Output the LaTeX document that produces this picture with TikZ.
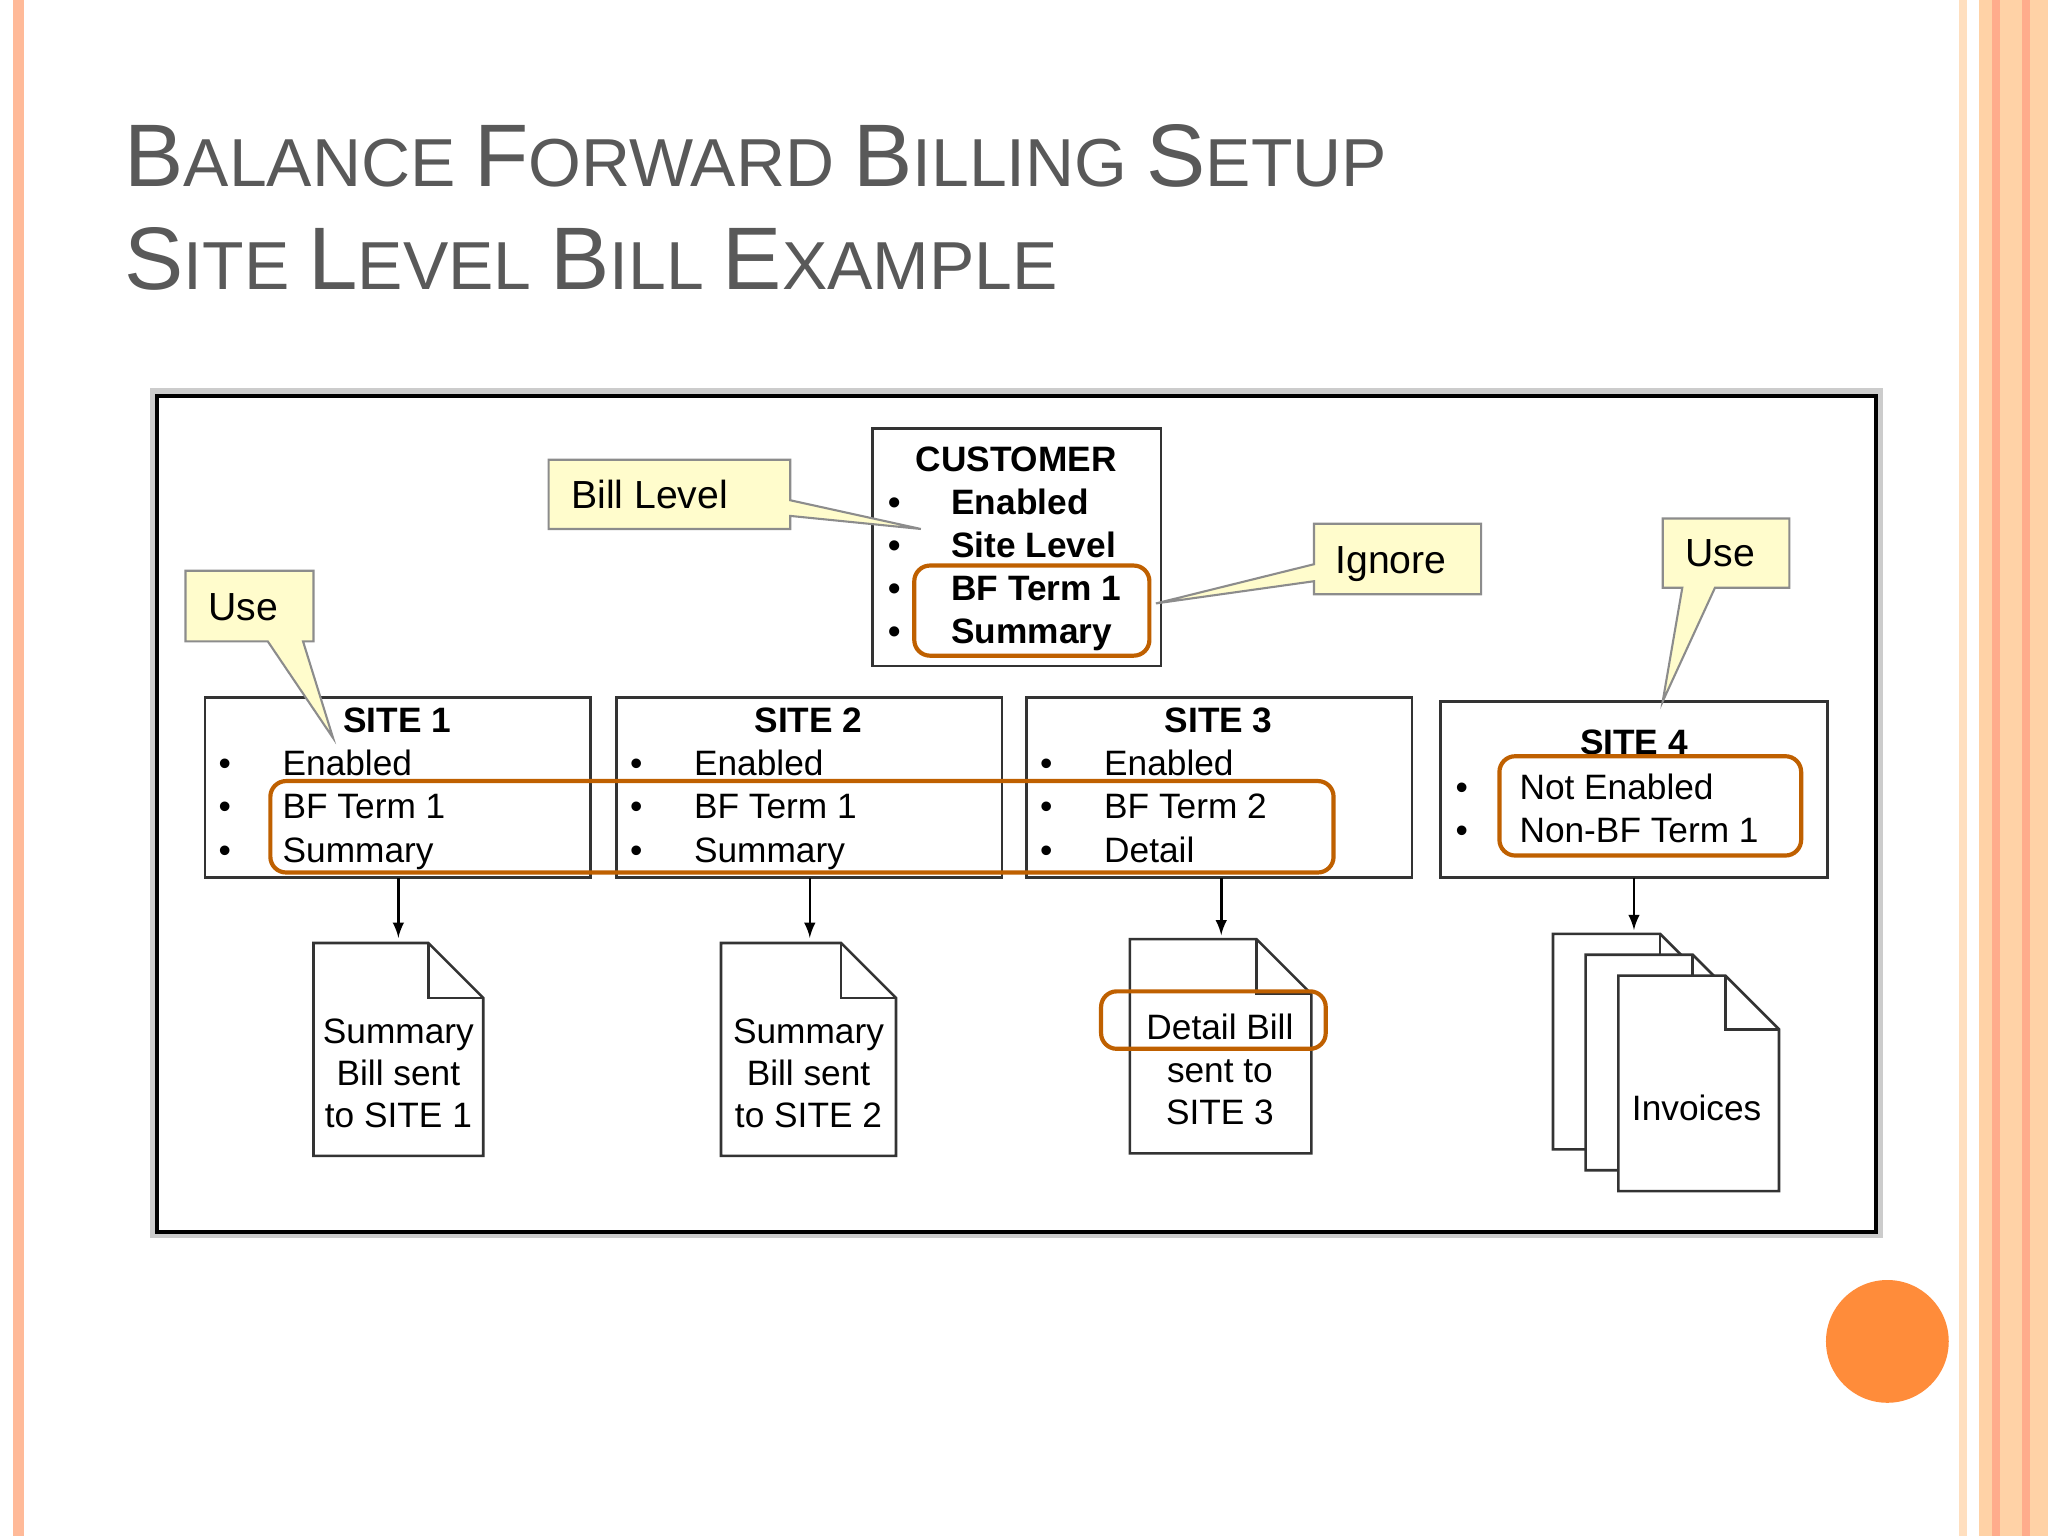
\documentclass[tikz,border=0pt]{standalone}
\usepackage{fontspec}
\setmainfont{Liberation Sans}
\begin{document}
\newcommand{\bigc}[1]{{\fontsize{34}{36}\selectfont #1}}
\newcommand{\smc}[1]{{\fontsize{26}{28}\selectfont #1}}
\definecolor{circ}{HTML}{FF8C3A}
\begin{tikzpicture}[x=0.5pt,y=-0.5pt,
  txt/.style={font=\fontsize{13.5}{15}\selectfont, inner sep=0pt, anchor=base west},
  btxt/.style={txt, font=\fontsize{13.5}{15}\selectfont\bfseries},
  ctxt/.style={txt, font=\fontsize{15}{17}\selectfont},
  box/.style={draw=black!80, line width=1pt, fill=white},
  hl/.style={draw=orange!75!black, line width=1.6pt, rounded corners=6pt},
  call/.style={draw=black!45, fill=yellow!20, line width=0.8pt},
  doc/.style={draw=black!80, fill=white, line width=1pt},
  arr/.style={-latex, line width=1pt}]
\useasboundingbox (0,0) rectangle (1568,1176);
\fill[white] (0,0) rectangle (1568,1176);
% side borders
\fill[red!35!orange!40] (10,0) rectangle (18,1176);
\fill[orange!25] (1500,0) rectangle (1506,1176);
\fill[orange!35] (1515,0) rectangle (1568,1176);
\fill[orange!55!red!45] (1525,0) rectangle (1531,1176);
\fill[orange!55!red!45] (1548,0) rectangle (1554,1176);
\fill[circ] (1445,1027) circle (47);
% title
\node[anchor=base west, inner sep=0pt, text=black!65, font=\fontsize{26}{28}\selectfont] (t1) at (95,143) {\bigc{B}\smc{ALANCE} \bigc{F}\smc{ORWARD} \bigc{B}\smc{ILLING} \bigc{S}\smc{ETUP}};
\node[anchor=base west, inner sep=0pt, text=black!65, font=\fontsize{26}{28}\selectfont] (t2) at (95,222) {\bigc{S}\smc{ITE} \bigc{L}\smc{EVEL} \bigc{B}\smc{ILL} \bigc{E}\smc{XAMPLE}};
% frame
\draw[black!20, line width=3pt] (118,300) rectangle (1439,945);
\draw[black, line width=1.5pt, fill=white] (120,303) rectangle (1436,943);
% customer
\draw[box] (668,328) rectangle (889,510);
\node[btxt, anchor=base] at (778,361) {CUSTOMER};
\foreach \y/\t in {394/Enabled,427/Site Level,460/BF Term 1,493/Summary}{
  \node[btxt] at (680,\y) {•}; \node[btxt] at (728,\y) {\t};}
\draw[hl] (700,433) rectangle (880,502);
% sites
\foreach \n/\x/\b in {1/157/Term 1,2/472/Term 1,3/786/Term 2}{
  \draw[box] (\x,534) rectangle ++(295,138);
  \node[btxt, anchor=base] at (\x+147,561) {SITE \n};
  \node[txt] at (\x+10,594) {•}; \node[txt] at (\x+59,594) {Enabled};
  \node[txt] at (\x+10,627) {•}; \node[txt] at (\x+59,627) {BF \b};
  \node[txt] at (\x+10,660) {•};}
\node[txt] at (216,660) {Summary};
\node[txt] at (531,660) {Summary};
\node[txt] at (845,660) {Detail};
\draw[box] (1103,537) rectangle (1399,672);
\node[btxt, anchor=base] at (1251,578) {SITE 4};
\node[txt] at (1114,612) {•}; \node[txt] at (1163,612) {Not Enabled};
\node[txt] at (1114,645) {•}; \node[txt] at (1163,645) {Non-BF Term 1};
\draw[hl] (207,598) rectangle (1021,668);
\draw[hl] (1148,579) rectangle (1379,655);
% callouts
\draw[call] (420,352) -- (605,352) -- (605,383) -- (705,405) -- (605,395) -- (605,405) -- (420,405) -- cycle;
\node[ctxt] (bl) at (437,389) {Bill Level};
\draw[call] (1006,401) -- (1134,401) -- (1134,455) -- (1006,455) -- (1006,445) -- (885,462) -- (1006,432) -- cycle;
\node[ctxt] (ig) at (1022,439) {Ignore};
\draw[call] (142,437) -- (240,437) -- (240,491) -- (232,491) -- (255,565) -- (205,491) -- (142,491) -- cycle;
\node[ctxt] (u1) at (159,475) {Use};
\draw[call] (1273,397) -- (1370,397) -- (1370,450) -- (1313,450) -- (1273,537) -- (1288,450) -- (1273,450) -- cycle;
\node[ctxt] (u2) at (1290,434) {Use};
% documents
\foreach \a/\b/\c/\d in {240/722/370/885, 552/722/686/885, 865/719/1004/883}{
  \draw[doc] (\a,\b) -- (\c-42,\b) -- (\c,\b+42) -- (\c,\d) -- (\a,\d) -- cycle;
  \draw[doc, fill=none] (\c-42,\b) -- (\c-42,\b+42) -- (\c,\b+42);}
\foreach \x/\s in {305/1,619/2}{
  \node[txt, anchor=base] at (\x,799) {Summary};
  \node[txt, anchor=base] at (\x,831) {Bill sent};
  \node[txt, anchor=base] at (\x,863) {to SITE \s};}
\node[txt, anchor=base] at (934,796) {Detail Bill};
\node[txt, anchor=base] at (934,829) {sent to};
\node[txt, anchor=base] at (934,861) {SITE 3};
\draw[hl] (843,759) rectangle (1015,803);
\foreach \a/\b in {1189/715,1214/731,1239/747}{
  \draw[doc] (\a,\b) -- (\a+82,\b) -- (\a+123,\b+41) -- (\a+123,\b+165) -- (\a,\b+165) -- cycle;
  \draw[doc, fill=none] (\a+82,\b) -- (\a+82,\b+41) -- (\a+123,\b+41);}
\node[txt, anchor=base] at (1299,858) {Invoices};
% arrows
\draw[arr] (305,672) -- (305,718);
\draw[arr] (620,672) -- (620,718);
\draw[arr] (935,672) -- (935,716);
\draw[arr] (1251,672) -- (1251,712);
\end{tikzpicture}
\end{document}
